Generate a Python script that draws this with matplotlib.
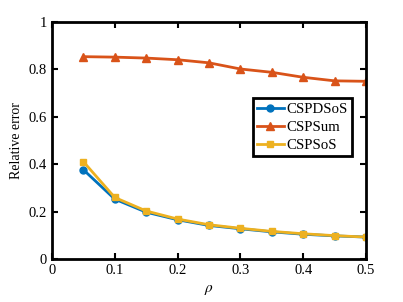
import matplotlib
matplotlib.use("Agg")
import matplotlib.pyplot as plt

plt.rcParams['font.family'] = ['Liberation Serif', 'DejaVu Serif']
plt.rcParams['mathtext.fontset'] = 'stix'

rho = [0.05, 0.1, 0.15, 0.2, 0.25, 0.3, 0.35, 0.4, 0.45, 0.5]
cspdsos = [0.377, 0.253, 0.198, 0.166, 0.142, 0.128, 0.115, 0.105, 0.098, 0.093]
cspsum = [0.854, 0.852, 0.848, 0.841, 0.828, 0.802, 0.788, 0.767, 0.752, 0.750]
cspsos = [0.411, 0.260, 0.203, 0.169, 0.145, 0.130, 0.117, 0.107, 0.099, 0.093]

fig = plt.figure(figsize=(4.03, 3.02), dpi=100)
ax = fig.add_axes([0.129, 0.142, 0.779, 0.785])

ax.plot(rho, cspdsos, color='#0072BD', marker='o', ms=5, lw=2, label='CSPDSoS')
ax.plot(rho, cspsum, color='#D95319', marker='^', ms=6, lw=2, label='CSPSum')
ax.plot(rho, cspsos, color='#EDB120', marker='s', ms=5, lw=2, label='CSPSoS')

ax.set_xlim(0, 0.5)
ax.set_ylim(0, 1)
ax.set_xticks([0, 0.1, 0.2, 0.3, 0.4, 0.5])
ax.set_xticklabels(['0', '0.1', '0.2', '0.3', '0.4', '0.5'])
ax.set_yticks([0, 0.2, 0.4, 0.6, 0.8, 1])
ax.set_yticklabels(['0', '0.2', '0.4', '0.6', '0.8', '1'])
ax.tick_params(direction='in', top=True, right=True, labelsize=10.5, length=4, width=1.5)
for s in ax.spines.values():
    s.set_linewidth(2)

ax.set_xlabel(r'$\rho$', fontsize=11)
ax.set_ylabel('Relative error', fontsize=10)

# legend box, thick black frame like matlab
leg = ax.legend(loc='upper right', bbox_to_anchor=(0.955, 0.679), fontsize=10.7,
                fancybox=False, framealpha=1, edgecolor='black',
                handlelength=1.8, handletextpad=0.15, borderpad=0.3,
                labelspacing=0.3, borderaxespad=0)
leg.get_frame().set_linewidth(2)

fig.savefig('out.png', dpi=100)
